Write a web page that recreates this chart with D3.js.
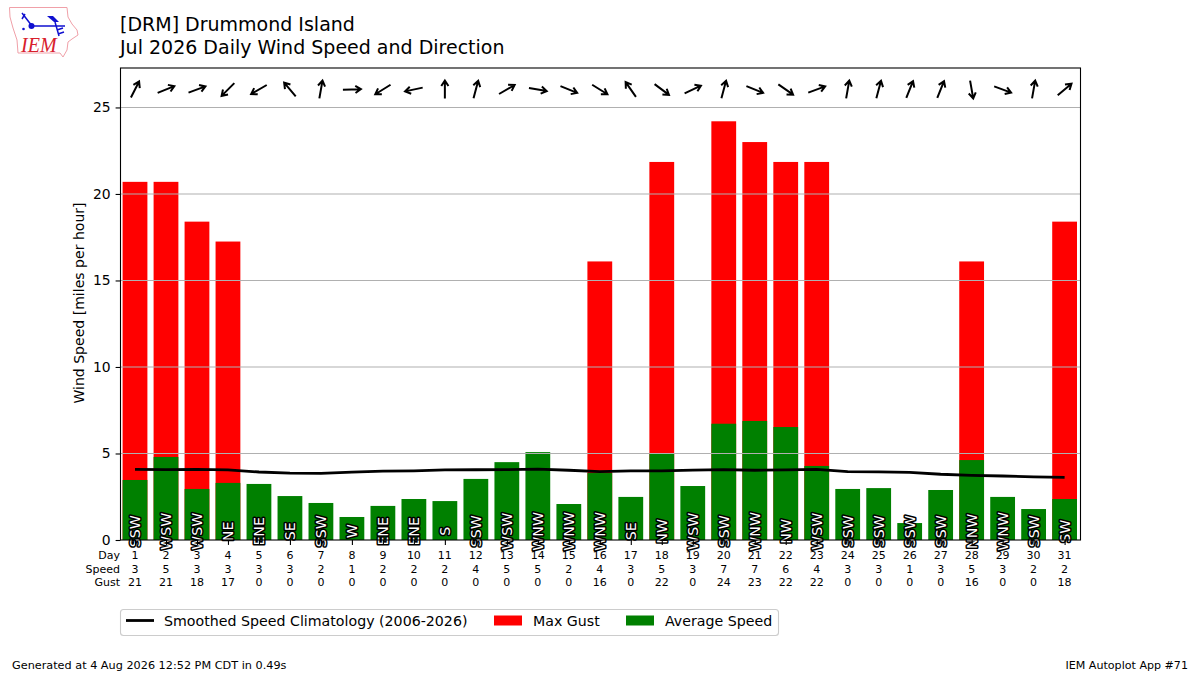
<!DOCTYPE html>
<html>
<head>
<meta charset="utf-8">
<script src="https://cdn.jsdelivr.net/npm/d3@7"></script>
<style>
  html, body { margin: 0; padding: 0; background: #fff; }
  svg { display: block; }
  text { font-family: "DejaVu Sans", sans-serif; fill: #000; }
</style>
</head>
<body>
<svg id="chart" width="1200" height="675"></svg>
<script>
// chart data
const days = d3.range(1, 32);
const avgSpeed = [3.47, 4.8, 2.95, 3.3, 3.24, 2.54, 2.14, 1.33, 1.97, 2.37, 2.25, 3.53, 4.5, 5.08, 2.08, 3.87,
  2.49, 5.0, 3.12, 6.72, 6.88, 6.53, 4.28, 2.95, 3.0, 0.98, 2.89, 4.62, 2.49, 1.79, 2.37];
const maxGust = [20.7, 20.7, 18.4, 17.25, 0, 0, 0, 0, 0, 0, 0, 0, 0, 0, 0, 16.1,
  0, 21.85, 0, 24.2, 23.0, 21.85, 21.85, 0, 0, 0, 0, 16.1, 0, 0, 18.4];
const climate = [4.08, 4.07, 4.08, 4.05, 3.93, 3.86, 3.85, 3.92, 3.98, 4.0, 4.05, 4.06, 4.07, 4.1, 4.03, 3.95,
  4.0, 4.0, 4.04, 4.07, 4.03, 4.05, 4.08, 3.95, 3.94, 3.91, 3.8, 3.74, 3.7, 3.65, 3.62];
const dirLabels = ["SSW", "WSW", "WSW", "NE", "ENE", "SE", "SSW", "W", "ENE", "ENE", "S", "SSW", "WSW", "WNW", "WNW", "WNW",
  "SE", "NW", "WSW", "SSW", "WNW", "NW", "WSW", "SSW", "SSW", "SSW", "SSW", "NNW", "WNW", "SSW", "SW"];
// bearing the wind came from, in degrees
const dirDegrees = [207, 248, 250, 45, 60, 140, 190, 268, 58, 78, 180, 195, 240, 280, 292, 302,
  145, 307, 245, 195, 292, 305, 250, 190, 195, 202, 202, 350, 290, 190, 230];
const speedLabels = [3, 5, 3, 3, 3, 3, 2, 1, 2, 2, 2, 4, 5, 5, 2, 4, 3, 5, 3, 7, 7, 6, 4, 3, 3, 1, 3, 5, 3, 2, 2];
const gustLabels = [21, 21, 18, 17, 0, 0, 0, 0, 0, 0, 0, 0, 0, 0, 0, 16, 0, 22, 0, 24, 23, 22, 22, 0, 0, 0, 0, 16, 0, 0, 18];
const yTicks = [0, 5, 10, 15, 20, 25];

const svg = d3.select("#chart");

// plot area
const plotLeft = 120.5, plotRight = 1080.5, plotTop = 68, plotBottom = 540;
const x = d3.scaleLinear().domain([0.532, 31.513]).range([plotLeft, plotRight]);
const y = d3.scaleLinear().domain([0, 27.28]).range([plotBottom, plotTop]);
const barW = x(0.8) - x(0);

// gust bars then average bars in front
svg.append("g").selectAll("rect").data(days).join("rect")
  .attr("x", (d) => x(d) - barW / 2)
  .attr("width", barW)
  .attr("y", (d, i) => y(maxGust[i]))
  .attr("height", (d, i) => y(0) - y(maxGust[i]))
  .attr("fill", "#ff0000");
svg.append("g").selectAll("rect").data(days).join("rect")
  .attr("x", (d) => x(d) - barW / 2)
  .attr("width", barW)
  .attr("y", (d, i) => y(avgSpeed[i]))
  .attr("height", (d, i) => y(0) - y(avgSpeed[i]))
  .attr("fill", "#008000");

// grid lines sit over the bars
svg.append("g").selectAll("line").data(yTicks.slice(1)).join("line")
  .attr("x1", plotLeft).attr("x2", plotRight)
  .attr("y1", (d) => y(d)).attr("y2", (d) => y(d))
  .attr("stroke", "#b0b0b0").attr("stroke-width", 1.1);

// climatology line
const line = d3.line().x((d) => x(d)).y((d, i) => y(climate[i]));
svg.append("path").datum(days).attr("d", line)
  .attr("fill", "none").attr("stroke", "#000").attr("stroke-width", 2.8);

// rotated direction names
const dirText = svg.append("g").selectAll("g").data(days).join("g")
  .attr("transform", (d) => `translate(${x(d)},${y(0.5)}) rotate(-90)`);
dirText.append("text")
  .attr("text-anchor", "middle").attr("dy", "0.36em")
  .style("font-size", "14.2px")
  .style("fill", "#fff").style("stroke", "#000").style("stroke-width", 3)
  .style("stroke-linejoin", "round").style("paint-order", "stroke")
  .text((d, i) => dirLabels[i]);

// wind arrows along the top, pointing where the wind blows to
const arrowY = 89.5, arrowLen = 18, headLen = 6.5;
const arrows = svg.append("g").selectAll("g").data(days).join("g")
  .attr("transform", (d, i) => `translate(${x(d)},${arrowY}) rotate(${dirDegrees[i] + 180})`);
arrows.append("path")
  .attr("d", `M0,${arrowLen / 2}L0,${-arrowLen / 2}M${-headLen * 0.55},${-arrowLen / 2 + headLen * 0.85}L0,${-arrowLen / 2}L${headLen * 0.55},${-arrowLen / 2 + headLen * 0.85}`)
  .attr("fill", "none").attr("stroke", "#000").attr("stroke-width", 2);

// axes
const yAxis = d3.axisLeft(y).tickValues(yTicks).tickSize(4.9).tickPadding(4.9);
const gy = svg.append("g").attr("transform", `translate(${plotLeft},0)`).call(yAxis);
gy.selectAll("text").style("font-size", "13.9px");
gy.select(".domain").remove();
gy.selectAll("line").attr("stroke-width", 1.1);

const xAxis = d3.axisBottom(x).tickValues(days).tickSize(4.9).tickFormat("");
const gx = svg.append("g").attr("transform", `translate(0,${plotBottom})`).call(xAxis);
gx.select(".domain").remove();
gx.selectAll("line").attr("stroke-width", 1.1);

svg.append("rect")
  .attr("x", plotLeft).attr("y", plotTop)
  .attr("width", plotRight - plotLeft).attr("height", plotBottom - plotTop)
  .attr("fill", "none").attr("stroke", "#000").attr("stroke-width", 1.1);

// table under the axis
const rows = [["Day", days, 559], ["Speed", speedLabels, 572.5], ["Gust", gustLabels, 586]];
rows.forEach(([name, vals, ty]) => {
  svg.append("text").attr("x", 120).attr("y", ty)
    .attr("text-anchor", "end").style("font-size", "11px").text(name);
  svg.append("g").selectAll("text").data(vals).join("text")
    .attr("x", (d, i) => x(days[i])).attr("y", ty)
    .attr("text-anchor", "middle").style("font-size", "11px").text((d) => d);
});

// axis title and titles
svg.append("text")
  .attr("transform", "translate(84,303) rotate(-90)")
  .attr("text-anchor", "middle").style("font-size", "14.05px")
  .text("Wind Speed [miles per hour]");
svg.append("text").attr("x", 120).attr("y", 31).style("font-size", "19px").text("[DRM] Drummond Island");
svg.append("text").attr("x", 120).attr("y", 54).style("font-size", "19px").text("Jul 2026 Daily Wind Speed and Direction");

// legend
const legend = svg.append("g");
legend.append("rect").attr("x", 120.5).attr("y", 609.5).attr("width", 658).attr("height", 26).attr("rx", 3)
  .attr("fill", "#fff").attr("stroke", "#ccc").attr("stroke-width", 1.1);
legend.append("line").attr("x1", 126).attr("x2", 154).attr("y1", 620.5).attr("y2", 620.5)
  .attr("stroke", "#000").attr("stroke-width", 2.8);
legend.append("rect").attr("x", 494).attr("y", 615.5).attr("width", 28).attr("height", 10).attr("fill", "#ff0000");
legend.append("rect").attr("x", 626).attr("y", 615.5).attr("width", 28).attr("height", 10).attr("fill", "#008000");
[["Smoothed Speed Climatology (2006-2026)", 164], ["Max Gust", 533], ["Average Speed", 665]].forEach(([t, tx]) => {
  legend.append("text").attr("x", tx).attr("y", 625.5).style("font-size", "14.2px").text(t);
});

// footer
svg.append("text").attr("x", 12).attr("y", 669).style("font-size", "11.25px")
  .text("Generated at 4 Aug 2026 12:52 PM CDT in 0.49s");
svg.append("text").attr("x", 1188).attr("y", 669).attr("text-anchor", "end").style("font-size", "11.1px")
  .text("IEM Autoplot App #71");

// IEM logo
const logo = svg.append("g");
logo.append("path")
  .attr("d", "M9.5,7.5L67,7.5L68,17L72,24L77,30L78,35L72,39L68,42L67,50L63,57L60,53L18,53L17,40L13,28L10,17Z")
  .attr("fill", "#fff").attr("stroke", "#f0a0a8").attr("stroke-width", 1);
logo.append("path")
  .attr("d", "M32,26L65,26M55,22L59,36M22,13L32,26M25,14L22,19M57,30L63,28M58,34L64,32")
  .attr("fill", "none").attr("stroke", "#1010d0").attr("stroke-width", 1.5);
logo.append("circle").attr("cx", 31.5).attr("cy", 26).attr("r", 3).attr("fill", "#1010d0");
logo.append("path").attr("d", "M47,16L53,16L59,22L54,22Z").attr("fill", "#1010d0");
logo.append("circle").attr("cx", 23.5).attr("cy", 29).attr("r", 1.3).attr("fill", "#1010d0");
logo.append("text").attr("x", 21).attr("y", 52)
  .style("font-family", "'Liberation Serif', serif").style("font-style", "italic")
  .style("font-size", "20px").style("fill", "#d8202c").text("IEM");
</script>
</body>
</html>
